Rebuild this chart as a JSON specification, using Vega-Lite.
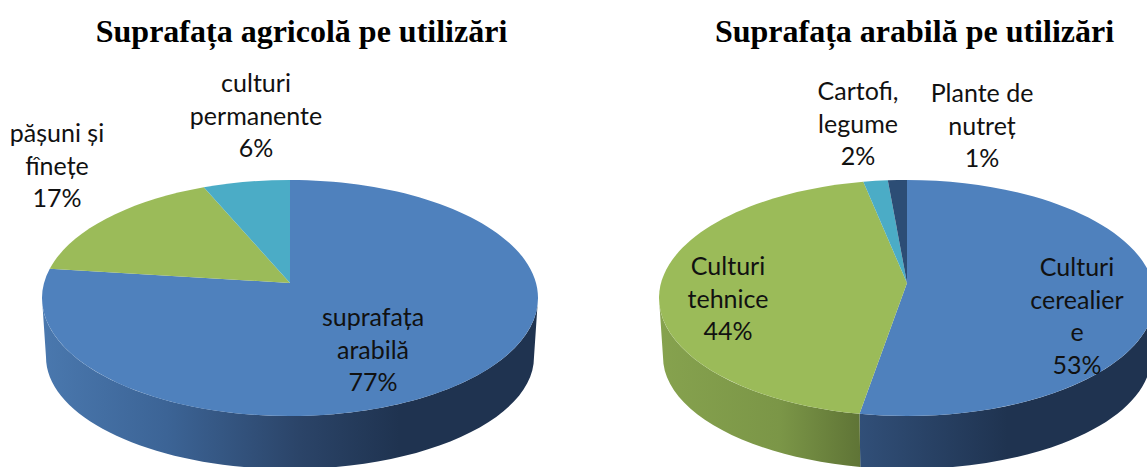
{
"$schema":"https://vega.github.io/schema/vega-lite/v6.json",
"width":1147,"height":467,"padding":0,"autosize":"none","background":"white",
"config":{"view":{"stroke":null}},
"data":{"values":[
{"chart":"agricola","category":"suprafața arabilă","order":1,"value":77,"label":"suprafața\narabilă\n77%"},
{"chart":"agricola","category":"pășuni și fînețe","order":2,"value":16.6,"label":"pășuni și\nfînețe\n17%"},
{"chart":"agricola","category":"culturi permanente","order":3,"value":6.4,"label":"culturi\npermanente\n6%"},
{"chart":"arabila","category":"Culturi cerealiere","order":1,"value":52.7,"label":"Culturi\ncerealier\ne\n53%"},
{"chart":"arabila","category":"Culturi tehnice","order":2,"value":44.1,"label":"Culturi\ntehnice\n44%"},
{"chart":"arabila","category":"Cartofi, legume","order":3,"value":1.8,"label":"Cartofi,\nlegume\n2%"},
{"chart":"arabila","category":"Plante de nutreț","order":4,"value":1.4,"label":"Plante de\nnutreț\n1%"}
]},
"transform":[
{"stack":"value","groupby":["chart"],"sort":[{"field":"order","order":"ascending"}],"offset":"normalize","as":["f0","f1"]},
{"calculate":"datum.f0*2*PI","as":"a0"},
{"calculate":"datum.f1*2*PI","as":"a1"},
{"calculate":"(cos(datum.a0)+0.127)/(1+0.127*cos(datum.a0))","as":"C0"},
{"calculate":"(cos(datum.a1)+0.127)/(1+0.127*cos(datum.a1))","as":"C1"},
{"calculate":"(sin(datum.a0)>=0?1:-1)*sqrt(max(0,1-datum.C0*datum.C0))","as":"S0"},
{"calculate":"(sin(datum.a1)>=0?1:-1)*sqrt(max(0,1-datum.C1*datum.C1))","as":"S1"},
{"calculate":"'M0,0L'+round(248*datum.S0*100)/100+','+round((15-118*datum.C0)*100)/100+'A248,118 0 '+(datum.a1-datum.a0>PI?1:0)+' 1 '+round(248*datum.S1*100)/100+','+round((15-118*datum.C1)*100)/100+'Z'","as":"slice"},
{"calculate":"max(datum.a0,1.698)","as":"t0"},
{"calculate":"min(datum.a1,4.585)","as":"t1"},
{"calculate":"(cos(datum.t0)+0.127)/(1+0.127*cos(datum.t0))","as":"W0"},
{"calculate":"(cos(datum.t1)+0.127)/(1+0.127*cos(datum.t1))","as":"W1"},
{"calculate":"(sin(datum.t0)>=0?1:-1)*sqrt(max(0,1-datum.W0*datum.W0))","as":"X0"},
{"calculate":"(sin(datum.t1)>=0?1:-1)*sqrt(max(0,1-datum.W1*datum.W1))","as":"X1"},
{"calculate":"'M'+round(248*datum.X0*100)/100+','+round((15-118*datum.W0)*100)/100+'A248,118 0 0 1 '+round(248*datum.X1*100)/100+','+round((15-118*datum.W1)*100)/100+'L'+round(244*datum.X1*100)/100+','+round((74-112*datum.W1)*100)/100+'A244,112 0 0 0 '+round(244*datum.X0*100)/100+','+round((74-112*datum.W0)*100)/100+'Z'","as":"wall"}
],
"encoding":{
"x":{"field":"chart","type":"nominal","axis":null,"scale":{"type":"point","padding":0,"domain":["agricola","arabila"],"range":[290,907]}},
"y":{"field":"chart","type":"nominal","axis":null,"scale":{"type":"point","padding":0,"domain":["agricola","arabila"],"range":[283,283]}}
},
"layer":[
{"transform":[{"filter":"datum.chart=='agricola' && datum.order==1"}],
 "mark":{"type":"point","filled":true,"size":4,"opacity":1,"fill":{"gradient":"linear","x1":0,"y1":0,"x2":1,"y2":0,"stops":[{"offset":0,"color":"#4A78AE"},{"offset":0.25,"color":"#3C6496"},{"offset":0.52,"color":"#2B4468"},{"offset":0.72,"color":"#1F3350"},{"offset":1,"color":"#1F3350"}]}},
 "encoding":{"shape":{"field":"wall","type":"nominal","scale":null}}},
{"transform":[{"filter":"datum.chart=='arabila' && datum.order==1"}],
 "mark":{"type":"point","filled":true,"size":4,"opacity":1,"fill":{"gradient":"linear","x1":0,"y1":0,"x2":1,"y2":0,"stops":[{"offset":0,"color":"#314F78"},{"offset":0.5,"color":"#1F3350"},{"offset":1,"color":"#1F3350"}]}},
 "encoding":{"shape":{"field":"wall","type":"nominal","scale":null}}},
{"transform":[{"filter":"datum.chart=='arabila' && datum.order==2"}],
 "mark":{"type":"point","filled":true,"size":4,"opacity":1,"fill":{"gradient":"linear","x1":0,"y1":0,"x2":1,"y2":0,"stops":[{"offset":0,"color":"#86A24E"},{"offset":0.6,"color":"#7B9647"},{"offset":1,"color":"#5F7436"}]}},
 "encoding":{"shape":{"field":"wall","type":"nominal","scale":null}}},
{"mark":{"type":"point","filled":true,"size":4,"opacity":1},
 "encoding":{"shape":{"field":"slice","type":"nominal","scale":null},
 "color":{"field":"category","type":"nominal","legend":null,"scale":{"domain":["suprafața arabilă","pășuni și fînețe","culturi permanente","Culturi cerealiere","Culturi tehnice","Cartofi, legume","Plante de nutreț"],"range":["#4F81BD","#9BBB59","#4BACC6","#4F81BD","#9BBB59","#4BACC6","#2C4D75"]}}}},
{"transform":[{"filter":"datum.category=='suprafața arabilă'"}],"mark":{"type":"text","font":"Lato","fontSize":25,"lineHeight":32.5,"lineBreak":"\n","color":"#111111","dx":83,"dy":35},"encoding":{"text":{"field":"label","type":"nominal"}}},
{"transform":[{"filter":"datum.category=='pășuni și fînețe'"}],"mark":{"type":"text","font":"Lato","fontSize":25,"lineHeight":32.5,"lineBreak":"\n","color":"#111111","dx":-233,"dy":-149},"encoding":{"text":{"field":"label","type":"nominal"}}},
{"transform":[{"filter":"datum.category=='culturi permanente'"}],"mark":{"type":"text","font":"Lato","fontSize":25,"lineHeight":32.5,"lineBreak":"\n","color":"#111111","dx":-34,"dy":-199},"encoding":{"text":{"field":"label","type":"nominal"}}},
{"transform":[{"filter":"datum.category=='Culturi cerealiere'"}],"mark":{"type":"text","font":"Lato","fontSize":25,"lineHeight":32.5,"lineBreak":"\n","color":"#111111","dx":170,"dy":-15},"encoding":{"text":{"field":"label","type":"nominal"}}},
{"transform":[{"filter":"datum.category=='Culturi tehnice'"}],"mark":{"type":"text","font":"Lato","fontSize":25,"lineHeight":32.5,"lineBreak":"\n","color":"#111111","dx":-179,"dy":-16},"encoding":{"text":{"field":"label","type":"nominal"}}},
{"transform":[{"filter":"datum.category=='Cartofi, legume'"}],"mark":{"type":"text","font":"Lato","fontSize":25,"lineHeight":32.5,"lineBreak":"\n","color":"#111111","dx":-49,"dy":-191},"encoding":{"text":{"field":"label","type":"nominal"}}},
{"transform":[{"filter":"datum.category=='Plante de nutreț'"}],"mark":{"type":"text","font":"Lato","fontSize":25,"lineHeight":32.5,"lineBreak":"\n","color":"#111111","dx":75,"dy":-189},"encoding":{"text":{"field":"label","type":"nominal"}}},
{"data":{"values":[{"chart":"agricola","title":"Suprafața agricolă pe utilizări"}]},"mark":{"type":"text","font":"Liberation Serif","fontWeight":"bold","fontSize":32,"color":"#000000","dx":11.5,"dy":-251},"encoding":{"text":{"field":"title","type":"nominal"}}},
{"data":{"values":[{"chart":"arabila","title":"Suprafața arabilă pe utilizări"}]},"mark":{"type":"text","font":"Liberation Serif","fontWeight":"bold","fontSize":32,"color":"#000000","dx":7.5,"dy":-251},"encoding":{"text":{"field":"title","type":"nominal"}}}
]
}
